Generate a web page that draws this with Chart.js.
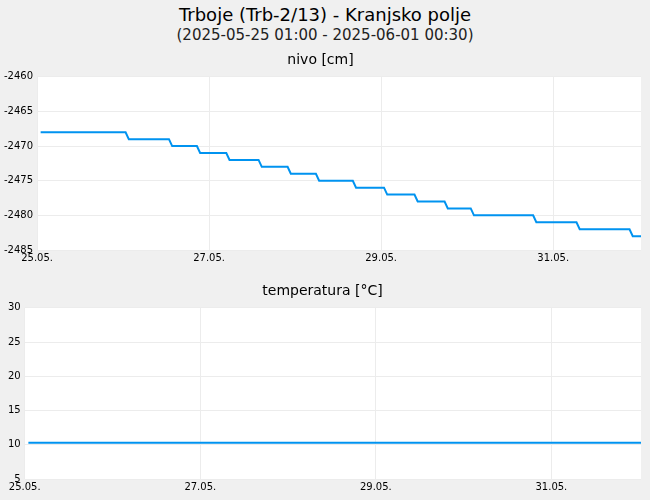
<!DOCTYPE html>
<html><head><meta charset="utf-8">
<script src="https://cdn.jsdelivr.net/npm/chart.js@4"></script>
<style>
body{margin:0;background:#f0f0f0;font-family:'DejaVu Sans',sans-serif;width:650px;height:500px;overflow:hidden}
h1{margin:0;position:absolute;top:4px;width:650px;text-align:center;font-size:18px;font-weight:normal;color:#000}
h2{margin:0;position:absolute;top:26px;width:650px;text-align:center;font-size:15px;font-weight:normal;color:#222}
.box{position:absolute;left:0;width:650px}
</style></head><body>
<h1>Trboje (Trb-2/13) - Kranjsko polje</h1>
<h2>(2025-05-25 01:00 - 2025-06-01 00:30)</h2>
<div class="box" style="top:50px;height:216px"><canvas id="c1"></canvas></div>
<div class="box" style="top:281px;height:214px"><canvas id="c2"></canvas></div>
<script>
// hours since 25.05. 00:00
const startHour = 1
const endHour = 168.5
const levelEnds = [24.7, 36.8, 44.6, 52.8, 61.8, 69.9, 77.8, 88.1, 96.8, 105.3, 113.7, 121, 138.4, 150.5, 165.3, 168.5]
const levels = [-2468, -2469, -2470, -2471, -2472, -2473, -2474, -2475, -2476, -2477, -2478, -2479, -2480, -2481, -2482, -2483]
const temperature = 10.3
const dayLabels = { 0: '25.05.', 48: '27.05.', 96: '29.05.', 144: '31.05.' }

const nivoPts = []
levels.forEach((v, i) => {
  const from = i === 0 ? startHour : levelEnds[i - 1] + 0.9
  nivoPts.push({ x: from, y: v }, { x: levelEnds[i], y: v })
})
const tempPts = [{ x: startHour, y: temperature }, { x: endHour, y: temperature }]

Chart.defaults.font.family = "'DejaVu Sans', sans-serif"
Chart.defaults.color = '#000'

function makeChart(id, title, pts, yMin, yMax, pad) {
  new Chart(document.getElementById(id), {
    type: 'line',
    data: { datasets: [{ data: pts, borderColor: '#0093f0', borderWidth: 2, pointRadius: 0, tension: 0 }] },
    options: {
      responsive: true, maintainAspectRatio: false, animation: false,
      layout: { padding: { left: pad, right: 9, top: 0, bottom: 0 } },
      plugins: {
        legend: { display: false },
        tooltip: { enabled: false },
        title: { display: true, text: title, font: { size: 14, weight: 'normal' }, color: '#000', padding: { top: 2, bottom: 8 } }
      },
      scales: {
        x: {
          type: 'linear', min: 0, max: endHour,
          afterBuildTicks: a => { a.ticks = [0, 48, 96, 144].map(v => ({ value: v })) },
          ticks: { callback: v => dayLabels[v], font: { size: 10 }, padding: 2, maxRotation: 0 },
          grid: { color: '#ececec', drawTicks: false }, border: { display: false }
        },
        y: {
          min: yMin, max: yMax,
          ticks: { stepSize: 5, font: { size: 10 }, padding: 4, callback: v => String(v) },
          grid: { color: '#ececec', drawTicks: false }, border: { display: false }
        }
      }
    },
    plugins: [{
      id: 'bg',
      beforeDraw(c) {
        const a = c.chartArea
        c.ctx.save(); c.ctx.fillStyle = '#fff'
        c.ctx.fillRect(a.left, a.top, a.right - a.left, a.bottom - a.top)
        c.ctx.restore()
      }
    }]
  })
}

makeChart('c1', 'nivo [cm]', nivoPts, -2485, -2460, 0)
makeChart('c2', 'temperatura [°C]', tempPts, 5, 30, 4)
</script>
</body></html>
